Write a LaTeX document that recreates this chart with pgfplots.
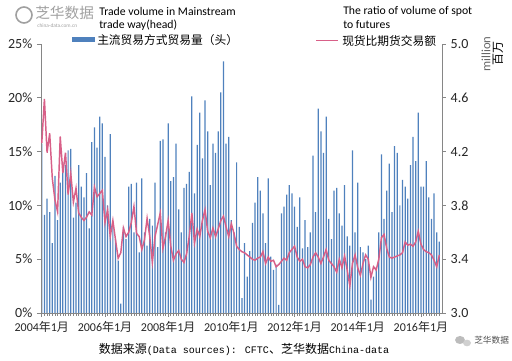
\documentclass[border=0pt]{standalone}
\usepackage{pgfplots}
\pgfplotsset{compat=1.18}
\usepackage{fontspec}
\setmainfont{Carlito}
\newfontfamily\cjk{Noto Sans CJK SC}
\newfontfamily\mono{Liberation Mono}
\definecolor{barblue}{RGB}{79,129,189}
\definecolor{linepink}{RGB}{216,96,136}
\definecolor{axisgray}{RGB}{134,134,134}
\definecolor{logogray}{RGB}{160,160,160}
\newcommand\fs[1]{\fontsize{#1}{#1}\selectfont}
\begin{document}
\begin{tikzpicture}[x=0.75pt,y=0.75pt]
\useasboundingbox (0,0) rectangle (512,361);
% bars, right axis
\begin{axis}[
  at={(30.75pt,36pt)}, anchor=south west, scale only axis,
  width=300.75pt, height=201.75pt,
  xmin=-0.3, xmax=152, ymin=3, ymax=5,
  axis y line*=right, axis x line*=bottom,
  axis line style={-, draw=axisgray, line width=0.6pt},
  tick style={draw=axisgray, line width=0.5pt},
  tick align=outside, major tick length=3pt, minor tick length=2.2pt,
  xtick={0,24,48,72,96,120,144},
  xticklabels={2004{\cjk 年}1{\cjk 月},2006{\cjk 年}1{\cjk 月},2008{\cjk 年}1{\cjk 月},2010{\cjk 年}1{\cjk 月},2012{\cjk 年}1{\cjk 月},2014{\cjk 年}1{\cjk 月},2016{\cjk 年}1{\cjk 月}},
  minor xtick={0,...,151},
  xticklabel style={font=\fs{9pt}, text=black!85},
  ytick={3,3.4,3.8,4.2,4.6,5},
  yticklabels={3.0,3.4,3.8,4.2,4.6,5.0},
  yticklabel style={font=\fs{10.5pt}, text=black!85},
  clip=true,
]
\addplot[ybar, bar width=0.47, fill=barblue, draw=none] coordinates {
(0,4.26)(1,3.73)(2,3.85)(3,3.75)(4,3.52)(5,4.02)(6,3.69)(7,3.97)(8,4.12)(9,4.10)
(10,4.21)(11,4.22)(12,3.71)(13,3.82)(14,4.10)(15,3.94)(16,3.86)(17,4.04)(18,3.63)(19,4.27)
(20,4.38)(21,4.23)(22,4.46)(23,4.41)(24,4.16)(25,3.80)(26,4.33)(27,3.65)(28,3.55)(29,3.39)
(30,3.07)(31,3.64)(32,3.55)(33,3.94)(34,3.96)(35,3.60)(36,3.97)(37,3.45)(38,4.00)(39,3.60)
(40,3.50)(41,3.70)(42,3.65)(43,3.97)(44,3.49)(45,4.28)(46,4.29)(47,3.60)(48,4.41)(49,3.98)
(50,4.01)(51,4.26)(52,3.77)(53,3.60)(54,3.93)(55,3.96)(56,4.05)(57,4.61)(58,3.89)(59,4.25)
(60,4.49)(61,4.15)(62,4.58)(63,4.35)(64,3.95)(65,4.26)(66,4.19)(67,4.35)(68,4.64)(69,4.87)
(70,4.26)(71,4.31)(72,3.69)(73,3.60)(74,4.12)(75,3.64)(76,3.11)(77,3.52)(78,3.27)(79,3.46)
(80,3.67)(81,3.82)(82,4.01)(83,3.91)(84,3.74)(85,3.52)(86,4.00)(87,3.42)(88,3.32)(89,3.36)
(90,3.06)(91,3.74)(92,3.79)(93,3.88)(94,3.95)(95,3.89)(96,3.79)(97,3.64)(98,3.86)(99,3.48)
(100,3.69)(101,3.49)(102,3.60)(103,4.17)(104,3.75)(105,4.52)(106,4.35)(107,4.19)(108,4.46)(109,3.70)
(110,3.55)(111,3.91)(112,3.93)(113,3.74)(114,3.65)(115,3.95)(116,3.57)(117,3.50)(118,4.21)(119,3.60)
(120,3.97)(121,3.49)(122,3.45)(123,3.40)(124,3.50)(125,3.10)(126,3.27)(127,3.34)(128,3.60)(129,4.18)
(130,3.70)(131,3.91)(132,4.11)(133,3.75)(134,4.24)(135,4.19)(136,3.80)(137,3.99)(138,3.94)(139,3.85)
(140,4.10)(141,4.31)(142,4.13)(143,4.49)(144,3.94)(145,3.94)(146,4.13)(147,3.86)(148,3.70)(149,3.89)
(150,3.60)(151,3.53)
};
\end{axis}
% line, left axis
\begin{axis}[
  at={(30.75pt,36pt)}, anchor=south west, scale only axis,
  width=300.75pt, height=201.75pt,
  xmin=-0.3, xmax=152, ymin=0, ymax=25,
  axis y line*=left, hide x axis,
  axis line style={-, draw=axisgray, line width=0.6pt},
  tick style={draw=axisgray, line width=0.5pt},
  tick align=outside, major tick length=3pt,
  ytick={0,5,10,15,20,25},
  yticklabels={0\%,5\%,10\%,15\%,20\%,25\%},
  yticklabel style={font=\fs{10.5pt}, text=black!85},
]
\addplot[linepink, line width=1.1pt] coordinates {
(0,15.8)(1,19.9)(2,14.9)(3,16.7)(4,12.5)(5,10.5)(6,9.4)(7,16.4)(8,13.0)(9,14.9)
(10,11.0)(11,13.0)(12,10.3)(13,11.6)(14,9.3)(15,8.9)(16,8.6)(17,8.9)(18,9.4)(19,9.1)
(20,11.7)(21,10.8)(22,11.1)(23,11.4)(24,8.4)(25,9.6)(26,7.1)(27,8.6)(28,6.8)(29,5.1)
(30,5.6)(31,7.9)(32,7.1)(33,7.5)(34,8.4)(35,9.9)(36,7.4)(37,7.1)(38,5.9)(39,6.8)
(40,8.8)(41,7.1)(42,4.7)(43,7.1)(44,8.2)(45,9.3)(46,6.0)(47,7.1)(48,8.6)(49,6.2)
(50,4.9)(51,5.5)(52,5.8)(53,5.0)(54,4.7)(55,5.5)(56,7.1)(57,9.3)(58,6.5)(59,7.8)
(60,7.1)(61,8.6)(62,9.6)(63,7.6)(64,7.0)(65,7.9)(66,7.1)(67,7.8)(68,8.6)(69,9.0)
(70,8.0)(71,7.1)(72,8.3)(73,7.4)(74,6.2)(75,5.9)(76,5.7)(77,5.6)(78,5.4)(79,5.2)
(80,5.0)(81,4.9)(82,5.1)(83,5.2)(84,5.7)(85,4.6)(86,5.2)(87,4.8)(88,4.9)(89,4.3)
(90,4.5)(91,4.8)(92,5.1)(93,4.9)(94,5.6)(95,5.9)(96,6.2)(97,5.2)(98,4.8)(99,5.0)
(100,4.3)(101,4.2)(102,4.5)(103,5.2)(104,5.6)(105,5.2)(106,4.6)(107,5.2)(108,5.9)(109,4.9)
(110,4.6)(111,4.3)(112,3.8)(113,5.0)(114,4.2)(115,5.3)(116,4.0)(117,2.5)(118,4.6)(119,5.4)
(120,4.2)(121,3.5)(122,4.6)(123,5.4)(124,5.0)(125,3.3)(126,4.3)(127,4.0)(128,5.0)(129,7.0)
(130,7.3)(131,6.0)(132,5.2)(133,5.1)(134,5.2)(135,5.3)(136,5.4)(137,5.6)(138,6.6)(139,6.3)
(140,6.4)(141,6.2)(142,6.6)(143,7.6)(144,6.4)(145,5.9)(146,5.7)(147,5.6)(148,5.4)(149,4.9)
(150,4.3)(151,5.4)
};
\end{axis}
% legend
\fill[barblue] (72,318.5) rectangle (95,323.5);
\node[anchor=west, inner sep=0] at (97,321) {\cjk\fs{8.8pt}主流贸易方式贸易量（头）};
\node[anchor=west, inner sep=0] at (99,350) {\fs{8.8pt}Trade volume in Mainstream};
\node[anchor=west, inner sep=0] at (99,336) {\fs{8.8pt}trade way(head)};
\draw[linepink, line width=1.1pt] (316,320.5) -- (338,320.5);
\node[anchor=west, inner sep=0] at (342,320) {\cjk\fs{8.8pt}现货比期货交易额};
\node[anchor=west, inner sep=0] at (343,350) {\fs{8.8pt}The ratio of volume of spot};
\node[anchor=west, inner sep=0] at (343,336) {\fs{8.8pt}to futures};
% right axis unit
\node[rotate=90, inner sep=0, text=black!60] at (486,307) {\fs{9.5pt}million};
\node[rotate=90, inner sep=0] at (498,307) {\cjk\fs{9pt}百万};
% logo
\draw[logogray, line width=1.2pt] (24,346) circle (8);
\node[anchor=west, inner sep=0, text=logogray] at (35,348) {\cjk\fs{11pt}芝华数据};
\node[anchor=west, inner sep=0, text=logogray] at (37,335) {\fs{4pt}china-data.com.cn};
% source
\node[inner sep=0] at (244,12) {\cjk\fs{9pt}数据来源{\mono\fs{7.5pt}(Data sources): CFTC}、芝华数据{\mono\fs{7.5pt}China-data}};
% watermark bottom right
\fill[logogray!70] (460,21) ellipse (5 and 4);
\fill[logogray!50] (467,18) ellipse (4 and 3.3);
\node[anchor=west, inner sep=0, text=black!70] at (474,21) {\cjk\fs{6.5pt}芝华数据};
\end{tikzpicture}
\end{document}
